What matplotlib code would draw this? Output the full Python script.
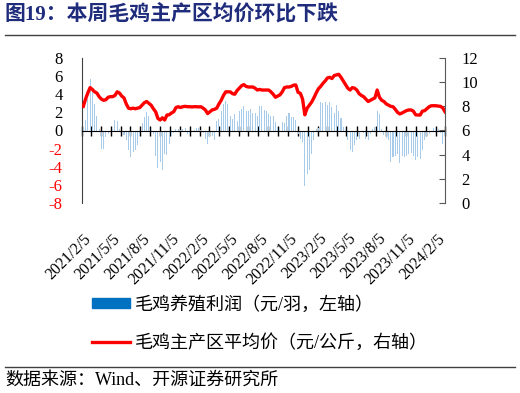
import matplotlib
matplotlib.use("Agg")
import matplotlib.pyplot as plt
import pandas as pd
from matplotlib.font_manager import FontProperties
from matplotlib.lines import Line2D
from matplotlib.patches import Patch
from matplotlib.ticker import FixedLocator, FixedFormatter
import matplotlib.dates as mdates

plt.rcParams["font.family"] = ["Liberation Serif", "Noto Sans CJK SC"]
plt.rcParams["axes.unicode_minus"] = False

TITLE = "图19：本周毛鸡主产区均价环比下跌"
SOURCE = "数据来源：Wind、开源证券研究所"
PROFIT_LABEL = "毛鸡养殖利润（元/羽，左轴）"
PRICE_LABEL = "毛鸡主产区平均价（元/公斤，右轴）"

# weekly observations, 161 weeks starting 2021/2/5
weeks = pd.date_range("2021-02-05", periods=161, freq="7D")

# broiler profit, yuan per bird (left axis)
profit = [
    0.3, 1.2, 3.5, 5.7, 4.4, 2.9, 1.65, 0.2, -2.0, -2.0,
    -0.7, -0.4, -0.2, 0.2, 1.2, 1.0, 0.2, -0.2, -0.5, -1.1,
    -2.2, -2.95, -2.4, -2.2, -1.65, -0.66, 0.88, 1.47, 2.0, 1.65,
    0.2, -0.37, -2.76, -4.1, -3.5, -4.4, -2.6, -2.7, -1.5, -0.55,
    -0.3, 0.15, 0.15, 0.1, 0.2, 0.3, -0.37, -0.44, -0.2, 0.1,
    0.3, 0.3, 0.1, -0.3, -0.9, -1.47, -0.7, -0.66, -1.1, 1.0,
    1.3, 2.2, 2.9, 3.3, 2.9, 1.65, 1.3, 1.77, 1.1, 2.1,
    2.4, 2.65, 2.2, 2.1, 2.4, 1.9, 1.9, 1.55, 2.65, 2.65,
    2.3, 2.2, 1.77, 1.65, 1.55, 0.9, 0.4, 0.2, 0.9, 0.8,
    1.55, 1.9, 1.47, 1.47, 1.2, -0.37, -0.9, -1.3, -6.07, -4.8,
    -4.4, -2.6, -1.0, 0.2, 0.3, 3.1, 3.0, 3.2, 2.85, 3.2,
    2.6, 1.9, 2.85, 2.2, 1.4, 0.4, 0.2, -1.1, -2.2, -2.4,
    -1.65, -1.1, -0.9, -0.2, -0.3, -0.9, -1.1, -0.37, 0.2, 0.44,
    2.2, 1.84, 0.2, -0.55, -0.8, -1.1, -3.5, -2.95, -2.8, -2.6,
    -3.6, -2.8, -2.95, -2.8, -2.6, -2.5, -2.8, -3.2, -2.95, -3.1,
    -2.2, -1.1, -0.7, -0.37, -0.2, 0.3, 0.3, 0.2, -0.3, -1.47,
    -0.5,
]

# average broiler price in main producing areas, yuan per kg (right axis)
price = [
    8.0, 8.6, 9.1, 9.55, 9.4, 9.2, 9.1, 8.8, 8.6, 8.5,
    8.55, 8.75, 8.8, 8.8, 8.9, 9.2, 9.1, 8.85, 8.7, 8.2,
    7.85, 7.8, 7.85, 7.8, 7.85, 7.9, 8.1, 8.3, 8.4, 8.25,
    8.1, 7.8, 7.55, 7.0, 6.87, 7.05, 6.87, 7.28, 7.3, 7.45,
    7.55, 7.9, 7.97, 7.9, 7.97, 8.0, 7.97, 7.97, 7.95, 7.97,
    7.97, 7.95, 7.97, 7.85, 7.7, 7.4, 7.55, 7.7, 7.75, 7.84,
    8.2, 8.5, 8.9, 9.2, 9.2, 9.2, 9.05, 9.0, 9.3, 9.5,
    9.7, 9.8, 9.65, 9.6, 9.6, 9.6, 9.5, 9.35, 9.4, 9.35,
    9.35, 9.35, 9.35, 9.2, 9.0, 8.75, 8.85, 8.95, 9.2, 9.55,
    9.6, 9.6, 9.65, 9.75, 9.77, 9.16, 9.08, 8.6, 7.3, 7.84,
    8.1, 8.35, 8.7, 9.1, 9.45, 9.65, 9.9, 10.1, 10.35, 10.4,
    10.3, 10.55, 10.6, 10.65, 10.4, 10.1, 9.8, 9.5, 9.35, 9.55,
    9.5, 9.35, 9.05, 8.9, 8.8, 8.6, 8.4, 8.5, 8.6, 8.7,
    9.35, 8.75, 8.5, 8.4, 8.2, 8.1, 8.0, 7.97, 7.75, 7.5,
    7.37, 7.45, 7.55, 7.65, 7.7, 7.7, 7.6, 7.3, 7.28, 7.28,
    7.6, 7.64, 7.8, 7.97, 8.05, 8.05, 8.05, 8.02, 8.0, 7.87,
    7.55,
]

xtick_labels = [
    "2021/2/5", "2021/5/5", "2021/8/5", "2021/11/5", "2022/2/5",
    "2022/5/5", "2022/8/5", "2022/11/5", "2023/2/5", "2023/5/5",
    "2023/8/5", "2023/11/5", "2024/2/5",
]
left_ticks = [8, 6, 4, 2, 0, -2, -4, -6, -8]
right_ticks = [12, 10, 8, 6, 4, 2, 0]

W, H = 520, 393
fig = plt.figure(figsize=(W / 100, H / 100), dpi=100)
ax = fig.add_axes([82 / W, 1 - 203 / H, 363 / W, 145 / H])
ax2 = ax.twinx()

ax.bar(weeks, profit, width=3.2, color="#A8CBEA", linewidth=0, zorder=2)
ax2.plot(weeks, price, color="#FF0000", lw=2.4, solid_joinstyle="round", zorder=3)

ax.set_xlim(pd.Timestamp("2021-02-01"), pd.Timestamp("2024-03-01"))
ax.set_ylim(-8, 8)
ax2.set_ylim(0, 12)

# date ticks: labels every quarter, monthly marks on the zero line
tick_dates = pd.to_datetime(xtick_labels, format="%Y/%m/%d")
ax.xaxis.set_major_locator(FixedLocator(mdates.date2num(tick_dates)))
ax.xaxis.set_major_formatter(FixedFormatter(xtick_labels))
ax.xaxis.set_minor_locator(mdates.MonthLocator())

for s in ["top", "right"]:
    ax.spines[s].set_visible(False)
ax.spines["bottom"].set_position(("data", 0))
ax.spines["bottom"].set_color("black")
ax.spines["left"].set_color("#404040")
ax.tick_params(axis="x", which="major", length=0, labelbottom=False)
ax.tick_params(axis="x", which="minor", direction="inout", length=7, width=1, color="black")

ax.set_yticks(left_ticks)
ax.tick_params(axis="y", length=0, pad=14, labelsize=12)
for lab, v in zip(ax.get_yticklabels(), left_ticks):
    lab.set_color("red" if v < 0 else "black")

# the twin carries the rotated date labels at the bottom
ax2.xaxis.set_visible(True)
for s in ["top", "left", "bottom"]:
    ax2.spines[s].set_visible(False)
ax2.spines["right"].set_color("#595959")
ax2.tick_params(axis="x", which="both", length=0, labelbottom=True, labelsize=11.5,
                labelrotation=45, pad=20)
plt.setp(ax2.get_xticklabels(), ha="right", rotation_mode="anchor")
ax2.set_yticks(right_ticks)
ax2.tick_params(axis="y", direction="in", length=4, color="#595959", pad=12, labelsize=12)

fig.legend(
    handles=[Patch(color="#0070C0"), Line2D([], [], color="#FF0000", lw=2.4)],
    labels=[PROFIT_LABEL, PRICE_LABEL],
    loc="upper left", bbox_to_anchor=(92 / W, 1 - 296 / H),
    frameon=False, borderpad=0, borderaxespad=0,
    handlelength=2.1, handleheight=0.5, handletextpad=0.3, labelspacing=1.1,
    prop=FontProperties(family=["Liberation Serif", "Noto Sans CJK SC"], size=13),
)

fig.text(5 / W, 1 - 15 / H, TITLE, fontsize=15, fontweight="bold", color="#1F2C7C",
         va="center", ha="left")
fig.text(5 / W, 1 - 380 / H, SOURCE, fontsize=13, va="center", ha="left")
for yy in (35, 367):
    fig.add_artist(Line2D([5 / W, 515 / W], [1 - yy / H] * 2, transform=fig.transFigure,
                          color="#404040", lw=1))

fig.savefig("out.png", dpi=100)
